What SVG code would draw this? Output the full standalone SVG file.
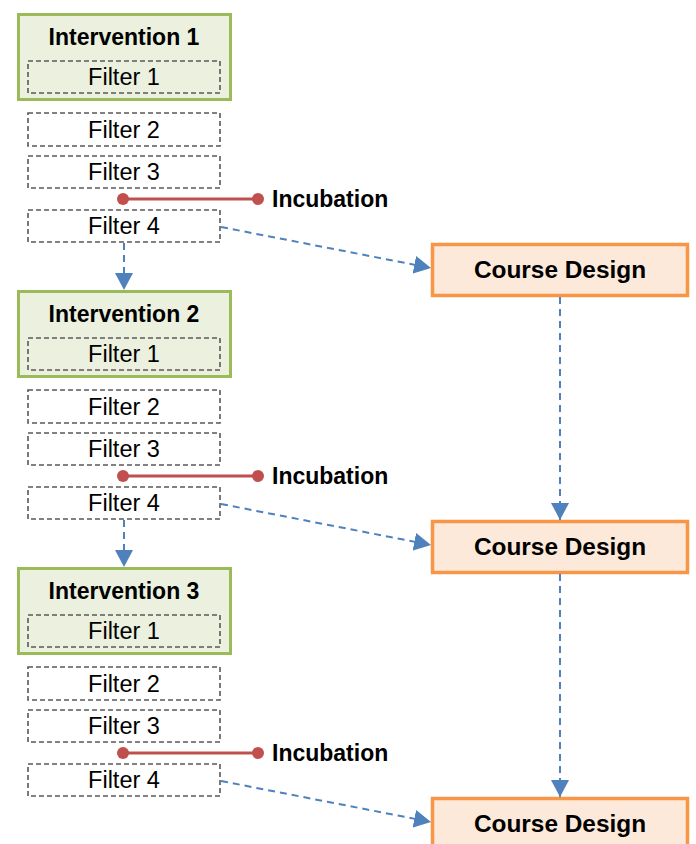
<svg xmlns="http://www.w3.org/2000/svg" width="696" height="844" viewBox="0 0 696 844">
<style>
.int{fill:#ebf1de;stroke:#9bbb59;stroke-width:3}
.flt{fill:#ffffff;stroke:#595959;stroke-width:1.6;stroke-dasharray:5 3}
.fltin{fill:none;stroke:#595959;stroke-width:1.6;stroke-dasharray:5 3}
.cd{fill:#fde9d9;stroke:#f79646;stroke-width:3.5}
.tb{font-family:"Liberation Sans",Arial,sans-serif;font-weight:bold;font-size:23px;fill:#000;text-anchor:middle}
.tr{font-family:"Liberation Sans",Arial,sans-serif;font-size:23.5px;fill:#000;text-anchor:middle}
.tinc{font-family:"Liberation Sans",Arial,sans-serif;font-weight:bold;font-size:23px;fill:#000}
.tcd{font-family:"Liberation Sans",Arial,sans-serif;font-weight:bold;font-size:24.4px;fill:#000;text-anchor:middle}
.inc{stroke:#c0504d;stroke-width:3}
.dot{fill:#c0504d}
.arr{fill:none;stroke:#4f81bd;stroke-width:2;stroke-dasharray:7 5;marker-end:url(#ah)}
</style>
<defs>
<marker id="ah" markerUnits="userSpaceOnUse" markerWidth="18" markerHeight="18" viewBox="0 0 18 18" refX="17" refY="9" orient="auto">
<path d="M0,0 L17,9 L0,18 Z" fill="#4f81bd"/>
</marker>
</defs>

<g id="intervention1">
<rect class="int" x="18.5" y="14.5" width="212" height="85"/>
<text class="tb" x="124" y="45">Intervention 1</text>
<rect class="fltin" x="28" y="61" width="192" height="32"/>
<text class="tr" x="124" y="85">Filter 1</text>
</g>
<g id="filter2-1"><rect class="flt" x="28" y="113" width="192" height="33"/><text class="tr" x="124" y="138">Filter 2</text></g>
<g id="filter3-1"><rect class="flt" x="28" y="156" width="192" height="32"/><text class="tr" x="124" y="180">Filter 3</text></g>
<g id="filter4-1"><rect class="flt" x="28" y="210" width="192" height="32"/><text class="tr" x="124" y="234">Filter 4</text></g>
<g id="incubation1">
<line class="inc" x1="123" y1="199" x2="258" y2="199"/>
<circle class="dot" cx="123" cy="199" r="6"/><circle class="dot" cx="258" cy="199" r="6"/>
<text class="tinc" x="272" y="207">Incubation</text>
</g>

<g id="intervention2">
<rect class="int" x="18.5" y="291.5" width="212" height="85"/>
<text class="tb" x="124" y="322">Intervention 2</text>
<rect class="fltin" x="28" y="338" width="192" height="32"/>
<text class="tr" x="124" y="362">Filter 1</text>
</g>
<g id="filter2-2"><rect class="flt" x="28" y="390" width="192" height="33"/><text class="tr" x="124" y="415">Filter 2</text></g>
<g id="filter3-2"><rect class="flt" x="28" y="433" width="192" height="32"/><text class="tr" x="124" y="457">Filter 3</text></g>
<g id="filter4-2"><rect class="flt" x="28" y="487" width="192" height="32"/><text class="tr" x="124" y="511">Filter 4</text></g>
<g id="incubation2">
<line class="inc" x1="123" y1="476" x2="258" y2="476"/>
<circle class="dot" cx="123" cy="476" r="6"/><circle class="dot" cx="258" cy="476" r="6"/>
<text class="tinc" x="272" y="484">Incubation</text>
</g>

<g id="intervention3">
<rect class="int" x="18.5" y="568.5" width="212" height="85"/>
<text class="tb" x="124" y="599">Intervention 3</text>
<rect class="fltin" x="28" y="615" width="192" height="32"/>
<text class="tr" x="124" y="639">Filter 1</text>
</g>
<g id="filter2-3"><rect class="flt" x="28" y="667" width="192" height="33"/><text class="tr" x="124" y="692">Filter 2</text></g>
<g id="filter3-3"><rect class="flt" x="28" y="710" width="192" height="32"/><text class="tr" x="124" y="734">Filter 3</text></g>
<g id="filter4-3"><rect class="flt" x="28" y="764" width="192" height="32"/><text class="tr" x="124" y="788">Filter 4</text></g>
<g id="incubation3">
<line class="inc" x1="123" y1="753" x2="258" y2="753"/>
<circle class="dot" cx="123" cy="753" r="6"/><circle class="dot" cx="258" cy="753" r="6"/>
<text class="tinc" x="272" y="761">Incubation</text>
</g>

<g id="course1"><rect class="cd" x="432.5" y="244.5" width="255" height="51"/><text class="tcd" x="560" y="278">Course Design</text></g>
<g id="course2"><rect class="cd" x="432.5" y="521.5" width="255" height="51"/><text class="tcd" x="560" y="555">Course Design</text></g>
<g id="course3"><rect class="cd" x="432.5" y="798.5" width="255" height="51"/><text class="tcd" x="560" y="832">Course Design</text></g>

<g id="connectors">
<line class="arr" x1="124" y1="243" x2="124" y2="290"/>
<line class="arr" x1="124" y1="520" x2="124" y2="567"/>
<line class="arr" x1="221" y1="227" x2="431" y2="268"/>
<line class="arr" x1="221" y1="504" x2="431" y2="545"/>
<line class="arr" x1="221" y1="781" x2="431" y2="822"/>
<line class="arr" x1="560" y1="297" x2="560" y2="520"/>
<line class="arr" x1="560" y1="574" x2="560" y2="797"/>
</g>
</svg>
